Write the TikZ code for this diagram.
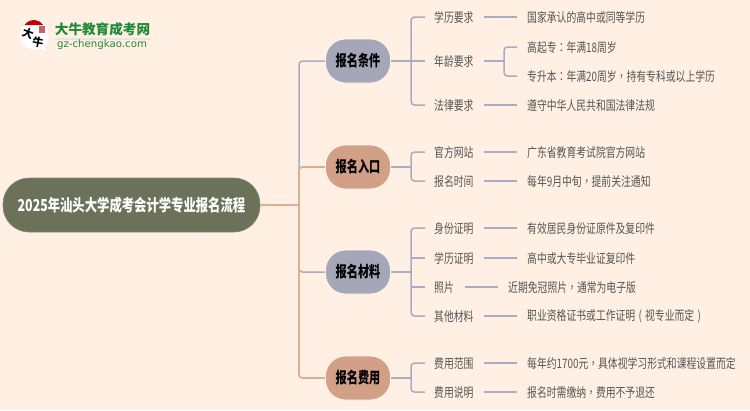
\documentclass[tikz,border=0pt]{standalone}
\usepackage{fontspec}
\setmainfont{Noto Sans CJK SC}
\newfontfamily\tcf{Noto Sans CJK TC}
\newfontfamily\latinf{DejaVu Sans}
\definecolor{bgc}{HTML}{FFF0E3}
\definecolor{rootc}{HTML}{6B7259}
\definecolor{bluec}{HTML}{A6A6B9}
\definecolor{tanc}{HTML}{D2A086}
\definecolor{linetan}{HTML}{DCAE94}
\definecolor{lineblue}{HTML}{A9ACC4}
\definecolor{txtc}{HTML}{555555}
\definecolor{logog}{HTML}{1E8A35}
\newcommand{\lf}[1]{\scalebox{0.756}[1]{\fontsize{13}{13}\selectfont #1}}
\newcommand{\mf}[1]{\raisebox{-.7pt}{\scalebox{0.72}[1]{\fontsize{15.5}{16}\selectfont\bfseries #1}}}
\newcommand{\rf}[1]{\raisebox{-.5pt}{\scalebox{0.748}[1]{\fontsize{16.5}{17}\selectfont\bfseries #1}}}
\newcommand{\cma}{{\tcf ，}}
\newcommand{\cln}{{\tcf ：}}
\newcommand{\opn}{\makebox[1em]{(}}
\newcommand{\cls}{\makebox[1em]{)}}
\tikzset{
 x=1pt,y=-1pt,
 rootbox/.style={fill=rootc,draw=rootc!85!white,line width=.6pt,rounded corners=26pt,minimum width=257pt,minimum height=54pt,inner sep=0pt,text=white},
 midbox/.style={draw=bgc!60!white,line width=.8pt,rounded corners=20pt,minimum width=65pt,minimum height=44pt,inner sep=0pt,text=black},
 lab/.style={inner sep=0pt,text=txtc,anchor=west,yshift=-.6pt},
 lb/.style={lineblue,line width=1.5pt,rounded corners=3.5pt},
 lt/.style={linetan,line width=1.8pt,rounded corners=3.5pt},
}
\begin{document}
\begin{tikzpicture}
\useasboundingbox[fill=bgc] (0,0) rectangle (750,410);
% nodes
\node[rootbox] (root) at (131.5,205) {\rf{2025年汕头大学成考会计学专业报名流程}};
\node[midbox,fill=bluec] (m1) at (358,61) {\mf{报名条件}};
\node[midbox,fill=tanc] (m2) at (358,167) {\mf{报名入口}};
\node[midbox,fill=bluec] (m3) at (358,272) {\mf{报名材料}};
\node[midbox,fill=tanc] (m4) at (358,378) {\mf{报名费用}};
% leaves
\foreach \n/\y/\t/\v in {a/17/学历要求/国家承认的高中或同等学历,c/105/法律要求/遵守中华人民共和国法律法规,d/152/官方网站/广东省教育考试院官方网站,e/181/报名时间/{每年9月中旬\cma 提前关注通知},f/228/身份证明/有效居民身份证原件及复印件,g/258/学历证明/高中或大专毕业证复印件,i/316/其他材料/{职业资格证书或工作证明\opn 视专业而定\cls},j/363/费用范围/{每年约1700元\cma 具体视学习形式和课程设置而定},k/392/费用说明/{报名时需缴纳\cma 费用不予退还}}{
  \node[lab] (\n) at (434,\y) {\lf{\t}};
  \node[lab] (\n v) at (527,\y) {\lf{\v}};
  \draw[lineblue,line width=1.4pt] (484,\y) -- (517,\y);
}
\node[lab] (b) at (434,61) {\lf{年龄要求}};
\node[lab] (b1) at (527,47) {\lf{高起专\cln 年满18周岁}};
\node[lab] (b2) at (527,76) {\lf{专升本\cln 年满20周岁\cma 持有专科或以上学历}};
\node[lab] (h) at (434,287) {\lf{照片}};
\node[lab] (hv) at (508,287) {\lf{近期免冠照片\cma 通常为电子版}};
\draw[lineblue,line width=1.4pt] (465,287) -- (498,287);
\coordinate (b0) at (484,61);
\draw[lb] (b0) -- (504,61);
\draw[lb] (517,47) -| (504,76) -- (517,76);
% level 2
\draw[lb] (425,17) -| (411,105) -- (425,105);
\draw[lb] (391,61) -- (425,61);
\draw[lb] (425,152) -| (411,181) -- (425,181);
\draw[lb] (391,167) -- (411,167);
\draw[lb] (425,228) -| (411,316) -- (425,316);
\draw[lb] (391,272) -- (411,272);
\draw[lb] (411,258) -- (425,258);
\draw[lb] (411,287) -- (425,287);
\draw[lb] (425,363) -| (411,392) -- (425,392);
\draw[lb] (391,378) -- (411,378);
% level 1
\draw[lb] (m1.west) -| (299,205);
\draw[lb] (299,205) |- (m3.west);
\draw[lt] (root.east) -- (299,205);
\draw[lt] (m2.west) -| (299,300);
\draw[lt] (299,200) |- (m4.west);
% logo
\fill[black!12] (38,48) -- (48,53) -- (45,46) -- cycle;
\fill[white] (34,35) circle (14.5);
\fill[white] (36,47) -- (47,52) -- (44,44) -- cycle;
\fill[red!75!black] (24.5,25) arc (215:325:11.5) -- cycle;
\fill[red!60!black!60] (38.5,25.5) rectangle (44.5,33);
\node[inner sep=0pt,rotate=-20] (ld) at (28,33) {\fontsize{11}{11}\selectfont\bfseries 大};
\node[inner sep=0pt,rotate=-10] (ln) at (38,42) {\fontsize{11}{11}\selectfont\bfseries 牛};
\node[inner sep=0pt,text=logog] (lt1) at (102.5,29.5) {\fontsize{13.6}{14}\selectfont\bfseries 大牛教育成考网};
\fill[black!10] (55,38) rectangle (150,39.5);
\node[inner sep=0pt,text=logog] (lt2) at (102,45) {\latinf\fontsize{10.2}{11}\selectfont gz-chengkao.com};
\end{tikzpicture}
\end{document}
